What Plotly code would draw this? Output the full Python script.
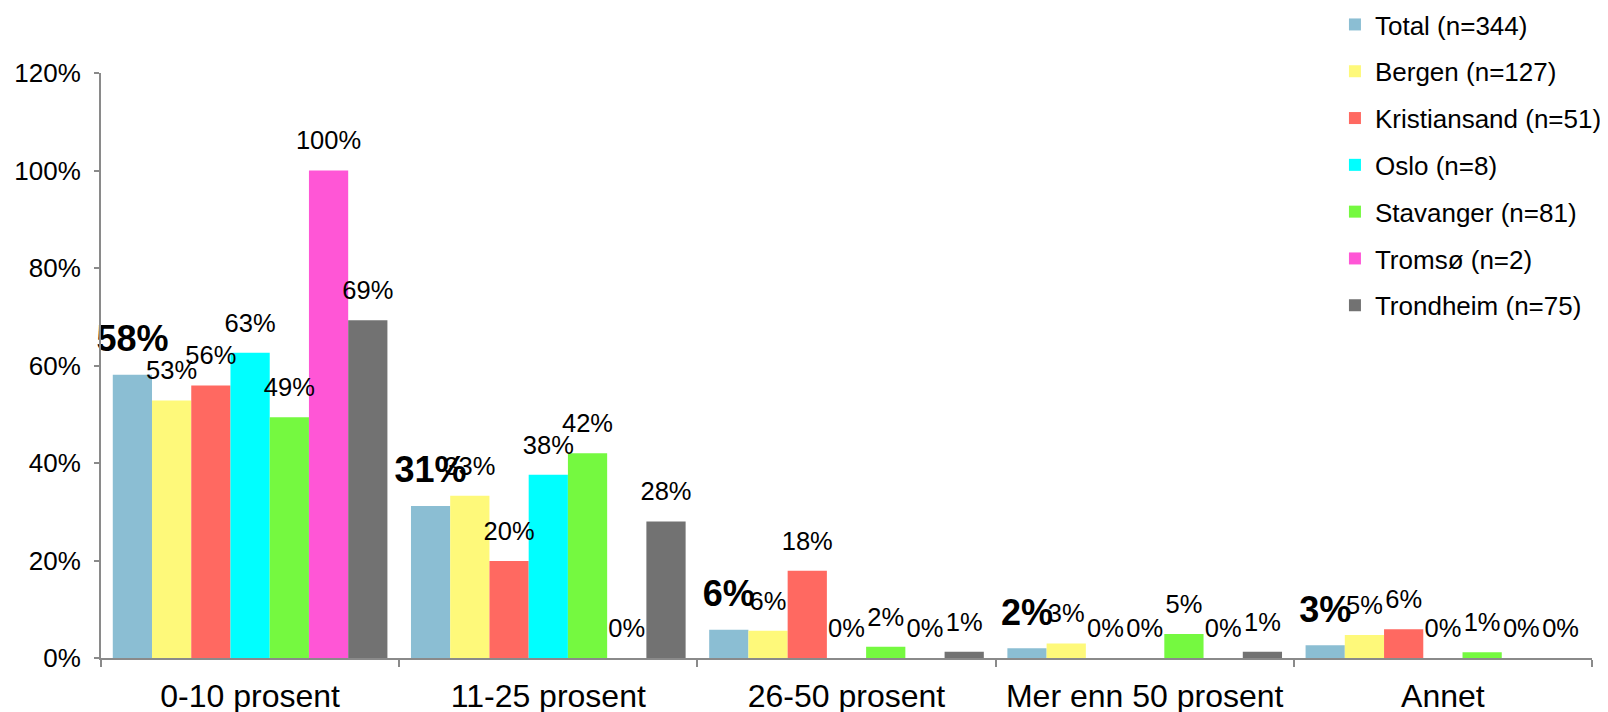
import plotly.graph_objects as go

categories = ["0-10 prosent", "11-25 prosent", "26-50 prosent", "Mer enn 50 prosent", "Annet"]
series_names = ["Total (n=344)", "Bergen (n=127)", "Kristiansand (n=51)", "Oslo (n=8)",
                "Stavanger (n=81)", "Tromsø (n=2)", "Trondheim (n=75)"]

total = [58.1, 31.2, 5.8, 2.0, 2.6]
bergen = [52.8, 33.3, 5.6, 3.0, 4.7]
kristiansand = [55.9, 19.9, 17.9, 0.0, 5.9]
oslo = [62.6, 37.6, 0.0, 0.0, 0.0]
stavanger = [49.4, 42.0, 2.3, 4.9, 1.2]
tromso = [100.0, 0.0, 0.0, 0.0, 0.0]
trondheim = [69.3, 28.0, 1.3, 1.3, 0.0]

series_values = [total, bergen, kristiansand, oslo, stavanger, tromso, trondheim]
colors = ["#8BBED3", "#FEF97A", "#FF6961", "#00FFFF", "#75F940", "#FF56D6", "#727272"]

y_ticks = [0, 20, 40, 60, 80, 100, 120]

FONT = "Helvetica, 'Liberation Sans', Arial, sans-serif"

fig = go.Figure()

for name, vals, col in zip(series_names, series_values, colors):
    fig.add_trace(go.Bar(
        x=categories, y=vals, name=name,
        marker=dict(color=col, line=dict(width=0)),
        legendgroup=name,
    ))

for i, (name, vals) in enumerate(zip(series_names, series_values)):
    is_total = i == 0
    fig.add_trace(go.Scatter(
        x=categories, y=vals, mode="markers+text",
        orientation="v",
        text=[f"{v:.0f}%" for v in vals],
        textposition="top center",
        textfont=dict(family=FONT, size=36 if is_total else 25.5, color="black",
                      weight="bold" if is_total else "normal"),
        marker=dict(size=22, opacity=0, color="rgba(0,0,0,0)"),
        showlegend=False, hoverinfo="skip", cliponaxis=False,
    ))

fig.update_layout(
    width=1600, height=704,
    margin=dict(l=93, r=16, t=65, b=54, autoexpand=False),
    paper_bgcolor="white", plot_bgcolor="white",
    barmode="group", bargap=0.079, bargroupgap=0,
    scattermode="group", scattergap=0.079,
    font=dict(family=FONT, size=26, color="black"),
    legend=dict(
        x=0.8276, xanchor="left", y=1.123, yanchor="top",
        font=dict(family=FONT, size=26, color="black"),
        tracegroupgap=10, bgcolor="rgba(0,0,0,0)",
    ),
    xaxis=dict(
        type="category", showline=True, linecolor="#8a8a8a", linewidth=2,
        ticks="outside", tickson="boundaries", ticklen=7, tickcolor="#8a8a8a", tickwidth=2,
        tickfont=dict(family=FONT, size=32, color="black"),
        showgrid=False, zeroline=False, ticklabelstandoff=9, automargin=False,
    ),
    yaxis=dict(
        range=[0, 120], tickvals=y_ticks, ticktext=[f"{t}%" for t in y_ticks],
        showline=True, linecolor="#8a8a8a", linewidth=2,
        ticks="outside", ticklen=5, tickcolor="#8a8a8a", tickwidth=2,
        tickfont=dict(family=FONT, size=26, color="black"),
        showgrid=False, zeroline=False, ticklabelstandoff=8, automargin=False,
    ),
)

fig.write_html("out.html")
